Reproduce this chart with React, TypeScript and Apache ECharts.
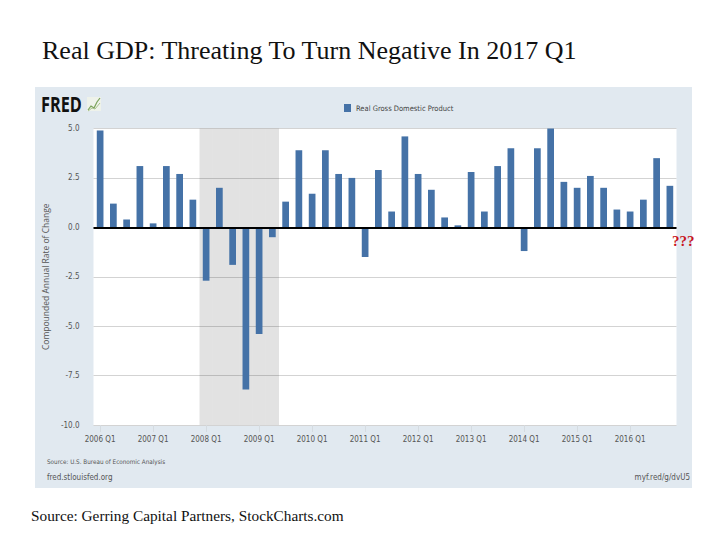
import React, { useEffect, useRef } from "react";
import * as echarts from "echarts";

const years: number[] = [2006, 2007, 2008, 2009, 2010, 2011, 2012, 2013, 2014, 2015, 2016];
const quarterNames: string[] = ["Q1", "Q2", "Q3", "Q4"];
const categories: string[] = years.flatMap((y) => quarterNames.map((q) => `${y} ${q}`));

// Real GDP, compounded annual rate of change (%)
const gdpGrowth: number[] = [
  4.9, 1.2, 0.4, 3.1,
  0.2, 3.1, 2.7, 1.4,
  -2.7, 2.0, -1.9, -8.2,
  -5.4, -0.5, 1.3, 3.9,
  1.7, 3.9, 2.7, 2.5,
  -1.5, 2.9, 0.8, 4.6,
  2.7, 1.9, 0.5, 0.1,
  2.8, 0.8, 3.1, 4.0,
  -1.2, 4.0, 5.0, 2.3,
  2.0, 2.6, 2.0, 0.9,
  0.8, 1.4, 3.5, 2.1,
];

const recessionStart = "2008 Q1";
const recessionEnd = "2009 Q2";

const yMin = -10;
const yMax = 5;
const yInterval = 2.5;

const seriesName = "Real Gross Domestic Product";
const titleText = "Real GDP: Threating To Turn Negative In 2017 Q1";
const sourceText = "Source: Gerring Capital Partners, StockCharts.com";
const fredSource = "Source: U.S. Bureau of Economic Analysis";
const fredSite = "fred.stlouisfed.org";
const fredLink = "myf.red/g/dvU5";
const yAxisName = "Compounded Annual Rate of Change";

const NARROW = '"Liberation Sans Narrow", "DejaVu Sans Condensed", "Roboto", sans-serif';
const SANS = '"Open Sans", "Liberation Sans", sans-serif';
const SERIF = '"Liberation Serif", "DejaVu Serif", serif';

export default function App() {
  const ref = useRef<HTMLDivElement>(null);

  useEffect(() => {
    if (!ref.current) return;
    const chart = echarts.init(ref.current, undefined, { renderer: "svg" });

    const si = categories.indexOf(recessionStart);
    const ei = categories.indexOf(recessionEnd);
    const shadeUp = categories.map((_, i) => (i >= si && i <= ei ? yMax : "-"));
    const shadeDown = categories.map((_, i) => (i >= si && i <= ei ? yMin : "-"));

    chart.setOption({
      animation: false,
      backgroundColor: "#ffffff",
      grid: {
        left: 93.5,
        top: 128.5,
        width: 583,
        height: 296.5,
        show: true,
        backgroundColor: "#ffffff",
        borderWidth: 0,
        containLabel: false,
      },
      legend: {
        data: [seriesName],
        left: 339,
        top: 99,
        icon: "rect",
        itemWidth: 7,
        itemHeight: 8,
        itemGap: 4,
        textStyle: { fontFamily: NARROW, fontSize: 7.5, color: "#444" },
      },
      xAxis: [
        {
          type: "category",
          data: categories,
          boundaryGap: true,
          axisLine: { show: false, onZero: false },
          axisTick: {
            show: true,
            interval: 3,
            alignWithLabel: true,
            length: 7,
            lineStyle: { color: "#d5dbe0" },
          },
          axisLabel: {
            interval: 3,
            margin: 10,
            fontFamily: NARROW,
            fontSize: 8,
            color: "#555",
          },
          splitLine: { show: false },
        },
        {
          type: "category",
          data: categories,
          show: false,
          boundaryGap: true,
        },
      ],
      yAxis: {
        type: "value",
        min: yMin,
        max: yMax,
        interval: yInterval,
        name: yAxisName,
        nameLocation: "middle",
        nameGap: 44,
        nameTextStyle: { fontFamily: SANS, fontSize: 8.5, color: "#555" },
        axisLine: { show: false },
        axisTick: { show: false },
        axisLabel: {
          margin: 14,
          fontFamily: NARROW,
          fontSize: 8,
          color: "#555",
          formatter: (v: number) => v.toFixed(1),
        },
        splitLine: { show: true, lineStyle: { color: "#d3d3d3", width: 1 } },
      },
      series: [
        {
          type: "bar",
          name: "recession-up",
          xAxisIndex: 1,
          data: shadeUp,
          barWidth: "100%",
          barGap: "-100%",
          itemStyle: { color: "rgba(0,0,0,0.115)" },
          silent: true,
          z: 1,
        },
        {
          type: "bar",
          name: "recession-down",
          xAxisIndex: 1,
          data: shadeDown,
          barWidth: "100%",
          barGap: "-100%",
          itemStyle: { color: "rgba(0,0,0,0.115)" },
          silent: true,
          z: 1,
        },
        {
          type: "bar",
          name: seriesName,
          xAxisIndex: 0,
          data: gdpGrowth,
          barWidth: 6.7,
          itemStyle: { color: "#4572a7" },
          z: 3,
          markLine: {
            silent: true,
            symbol: ["none", "none"],
            label: { show: false },
            lineStyle: { color: "#000", width: 2, type: "solid" },
            data: [{ yAxis: 0 }],
          },
        },
      ],
      graphic: [
        {
          type: "rect",
          z: -100,
          shape: { x: 35, y: 87, width: 657, height: 401 },
          style: { fill: "#e1e9f0" },
          silent: true,
        },
        {
          type: "text",
          left: 42,
          top: 37,
          style: { text: titleText, font: `26px ${SERIF}`, fill: "#111" },
        },
        {
          type: "text",
          x: 41,
          y: 92,
          scaleX: 0.74,
          style: { text: "FRED", font: `bold 22px ${SANS}`, fill: "#111" },
        },
        {
          type: "rect",
          shape: { x: 87, y: 97, width: 14, height: 14 },
          style: { fill: "#eef2ea" },
        },
        {
          type: "polyline",
          shape: { points: [[88, 110], [91, 106], [94, 108], [97, 102], [100, 98]] },
          style: { stroke: "#7aa25a", lineWidth: 1.2, fill: "none" },
        },
        {
          type: "polyline",
          shape: { points: [[88, 111], [92, 108], [95, 109], [100, 103]] },
          style: { stroke: "#a9c48c", lineWidth: 1, fill: "none" },
        },
        {
          type: "text",
          left: 47,
          top: 458,
          style: { text: fredSource, font: `6.3px ${NARROW}`, fill: "#555" },
        },
        {
          type: "text",
          left: 47,
          top: 473,
          style: { text: fredSite, font: `8px ${NARROW}`, fill: "#555" },
        },
        {
          type: "text",
          right: 30,
          top: 473,
          style: { text: fredLink, font: `8px ${NARROW}`, fill: "#555" },
        },
        {
          type: "text",
          left: 672,
          top: 233,
          style: { text: "???", font: `bold 15px ${SERIF}`, fill: "#c8141e" },
        },
        {
          type: "text",
          left: 31,
          top: 508,
          style: { text: sourceText, font: `15.3px ${SERIF}`, fill: "#111" },
        },
      ],
    });

    return () => chart.dispose();
  }, []);

  return (
    <div
      ref={ref}
      style={{ position: "fixed", left: 0, top: 0, width: 720, height: 540 }}
    />
  );
}
